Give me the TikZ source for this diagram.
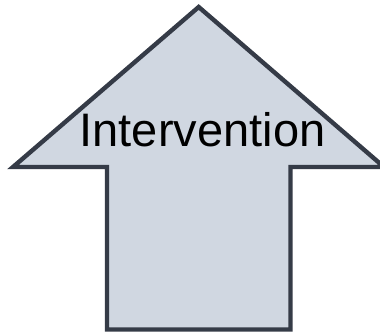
\documentclass[tikz,border=0pt]{standalone}
\usepackage{fontspec}
\setmainfont{Liberation Sans}
\usepackage{xcolor}
\definecolor{arrowfill}{HTML}{D0D7E1}
\definecolor{arrowline}{HTML}{353B47}

\begin{document}
\begin{tikzpicture}[x=1pt,y=-1pt]
	\useasboundingbox (0,0) rectangle (380,333);
	\draw[line width=4.4pt, draw=arrowline, fill=arrowfill] (198.7,7) -- (384,167) -- (290.5,167) -- (290.5,329.5) -- (107,329.5) -- (107,167) -- (13,167) -- cycle;
	\node[anchor=base, inner sep=0pt, font=\fontsize{47}{56}\selectfont] (label) at (202.5,146) {Intervention};
\end{tikzpicture}
\end{document}
